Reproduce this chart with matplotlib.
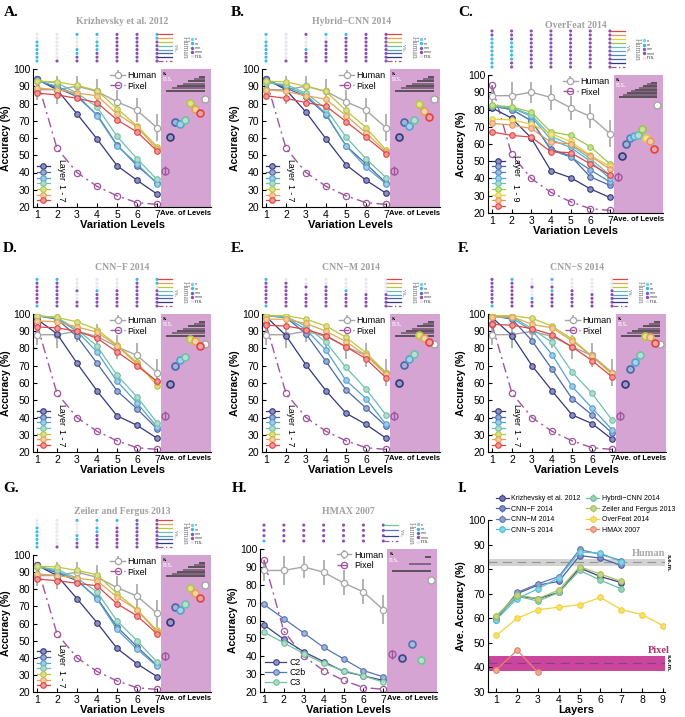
import numpy as np
import matplotlib.pyplot as plt
from matplotlib.colors import to_rgb

plt.rcParams['font.family'] = ['Liberation Sans', 'DejaVu Sans']
plt.rcParams['axes.linewidth'] = 0.8

W, H = 685, 717
fig = plt.figure(figsize=(W / 100, H / 100), dpi=100)


def box(x0, y0, x1, y1):
    return [x0 / W, 1 - y1 / H, (x1 - x0) / W, (y1 - y0) / H]


def light(c, f=0.45):
    r = np.array(to_rgb(c))
    return tuple(r + (1 - r) * f)


# ---- data ----
levels = [1, 2, 3, 4, 5, 6, 7]
human = [88, 88, 90, 87, 81, 76, 66]
human_err = [6, 8, 6, 7, 7, 7, 8]
human_ave = 82.5
pixel = [94, 54, 40, 32, 26.5, 22.5, 21.5]
pixel_ave = 41

kriz = [[94, 88, 74, 59.5, 44, 35.5, 27.5],
        [94, 89, 84, 73.5, 56, 44, 34],
        [93, 90, 85, 73, 55.5, 45, 33.5],
        [93, 92, 86, 78, 61, 48, 36],
        [93, 92.5, 90.5, 87.5, 77, 67, 55],
        [89, 88, 86, 84.5, 74, 66.5, 53.5],
        [86, 85, 83, 80.5, 70.5, 63.5, 52.5]]
kriz_ave = [60.5, 69, 68, 70.5, 80.5, 77, 74.5]
kriz_sig = ["0022442", "0000442", "2002444", "2002444",
            "2022444", "2024444", "2044444", "2444444"]

hybrid = [[94, 88, 75, 59.5, 44.5, 35.5, 28],
          [94, 89, 84, 73.5, 55.5, 45, 34],
          [93, 90, 85, 74, 55.5, 43, 33.5],
          [92, 91, 86, 77, 60.5, 48, 37],
          [93, 92.5, 90, 87, 76, 66, 53],
          [88, 87, 84.5, 82.5, 73, 63, 52],
          [84.5, 83, 80.5, 78.5, 69.5, 60.5, 51]]
hybrid_ave = [60.5, 69, 67, 70.5, 79.5, 75.5, 72]
hybrid_sig = ["2042244", "0000444", "2004444", "2004444",
              "2024444", "2044444", "2044444", "2444444"]

overfeat = [[81, 75, 63.5, 44.5, 40.5, 34, 29],
            [82, 80, 73.5, 57, 53, 41, 36],
            [82, 80, 73.5, 56.5, 52.5, 45, 38],
            [82, 81, 76, 62.5, 58, 50, 40],
            [82, 81, 77, 64.5, 59.5, 51.5, 42],
            [82.5, 81.5, 78.5, 67, 65, 58.5, 48.5],
            [74.5, 74, 71.5, 66, 61.5, 53.5, 47],
            [72, 71, 69, 61, 60, 53, 45.5],
            [67, 65, 64, 55.5, 55, 48.5, 42]]
overfeat_ave = [53, 60, 63.5, 64.5, 65.5, 68.5, 63.5, 61.5, 57]
overfeat_sig = ["4444444", "4444444", "2444444", "2244444", "2244444",
                "2244444", "2244444", "2244444", "2444444", "2444444"]

cnnf = [[97, 88.5, 71.5, 55.5, 41, 35.5, 28],
        [99, 97, 87, 71.5, 55.5, 45, 33.5],
        [99, 97.5, 90, 78, 61, 48.5, 34.5],
        [99, 98, 91, 81.5, 64.5, 52, 37],
        [99, 98, 95.5, 91, 82, 72, 58.5],
        [96, 95.5, 92.5, 89.5, 81.5, 71, 60.5],
        [92.5, 92, 90, 86, 78, 70, 61]]
cnnf_ave = [59.5, 70, 73.5, 75, 85.5, 84.5, 81.5]
cnnf_sig = ["2200022", "4400042", "4400040", "4432444",
            "4404444", "4404444", "4444444", "2444444"]

cnnm = [[98.5, 87.5, 70.5, 55.5, 42.5, 36, 28],
        [99, 98, 88.5, 72.5, 56, 45.5, 35],
        [99, 98, 91, 79, 61.5, 51, 36],
        [99, 98.5, 93, 83.5, 69, 56.5, 41.5],
        [99, 99, 97, 93, 86.5, 77.5, 66],
        [97, 97, 94.5, 90, 84, 76, 65],
        [93.5, 93, 91, 87.5, 81, 74, 63]]
cnnm_ave = [60, 70.5, 74, 77, 88, 86, 83.5]
cnnm_sig = ["2000000", "4400000", "4444000", "4404200",
            "4444444", "4444444", "4444444", "2444444"]

cnns = [[98, 87.5, 70, 55.5, 41.5, 36.5, 27.5],
        [99, 97, 84.5, 68, 51, 41.5, 31],
        [99, 97.5, 90.5, 76.5, 58, 45.5, 33],
        [99, 98.5, 91.5, 83.5, 66.5, 54, 38.5],
        [99, 99, 97.5, 93, 85.5, 75.5, 65],
        [98, 98.5, 94, 92, 84.5, 75.5, 66],
        [94, 93.5, 91.5, 88, 81, 73, 63.5]]
cnns_ave = [59.5, 68, 72, 76.5, 87, 86.5, 83]
cnns_sig = ["4202000", "4400000", "4444000", "4402404",
            "4404444", "4424444", "4444444", "2444444"]

zeiler = [[94, 88, 74.5, 60.5, 45.5, 36.5, 29],
          [94, 89.5, 85, 75, 58, 46.5, 35.5],
          [93.5, 90.5, 85.5, 74.5, 56.5, 45, 35],
          [93, 91.5, 86.5, 78.5, 61.5, 50, 37.5],
          [93.5, 93, 91, 88.5, 77.5, 68, 56],
          [89, 88, 86.5, 85, 75.5, 68, 55],
          [86, 85, 83.5, 82, 71.5, 64.5, 54]]
zeiler_ave = [61, 69.5, 68, 71.5, 81, 78, 75]
zeiler_sig = ["0022234", "0000034", "2002444", "2002444",
              "2024444", "2024444", "2044444", "2444444"]

hmax = [[57.5, 49.5, 42.5, 37, 31.5, 29, 26.5],
        [69, 61, 53, 45, 38.5, 32, 28.5],
        [53.5, 47.5, 41.5, 36, 32, 29, 25.5]]
hmax_ave = [39, 47, 38]
hmax_names = ['C2', 'C2b', 'C3']
hmax_sig = ["4444444", "4444444", "4444444", "2444444"]

model_names = ['Krizhevsky et al. 2012', 'CNN\u2212F 2014', 'CNN\u2212M 2014', 'CNN\u2212S 2014',
               'Hybrdi\u2212CNN 2014', 'Zeiler and Fergus 2013', 'OverFeat 2014', 'HMAX 2007']
model_aves = [kriz_ave, cnnf_ave, cnnm_ave, cnns_ave, hybrid_ave, zeiler_ave, overfeat_ave, hmax_ave]
human_band = (81.3, 84.2)
pixel_band = (38.5, 44.7)

sig_labels = ['*', '**', '***', '****', 'n.s.']
sig_keys = ['1', '2', '3', '4', '0']

# ---- styles ----
cols7 = ['#34367f', '#4a66a8', '#55a2cf', '#6fc0aa', '#bcc53c', '#e3a552', '#e04545']
cols9 = ['#34367f', '#4a66a8', '#4f86c0', '#55a8d6', '#68c0b8', '#98c54a',
         '#e6cf3e', '#e5975a', '#e04545']
hmax_cols = ['#3d418c', '#5575b5', '#72c29a']
model_cols = ['#3b3d8c', '#4c5fae', '#6478ae', '#55bfd8', '#6fbf99', '#a8c25a', '#f0d23c', '#e8856a']
PINK = '#d6a4d3'
PIX = '#a1559e'
GREY = '#a5a5a5'
TGREY = '#a0a0a0'
sig_cols = {'0': '#ece4ef', '1': '#6ad4f2', '2': '#3eb8e6', '3': '#6e63c2', '4': '#8a4fb2'}
SERIF = ['Liberation Serif', 'DejaVu Serif']
TICK = 7.5


def panel(bx, letter, lpos, title, ty, curves, aves, sig, colors, sp, names=None):
    x0, y0, x1, y1 = bx
    n = len(curves)
    ax = fig.add_axes(box(*bx))
    ax.set_xlim(0.8, 9.7)
    ax.set_ylim(20, 100)
    ax.axvspan(7.2, 9.7, color=PINK, lw=0, zorder=0)
    hl = ax.errorbar(levels, human, yerr=human_err, color=GREY, marker='o', ms=4.5,
                     mfc='white', mec=GREY, mew=0.9, lw=1, elinewidth=1.2, zorder=2)
    pl, = ax.plot(levels, pixel, color=PIX, ls=(0, (7, 3, 1.5, 3)), lw=1, marker='o',
                  ms=4.5, mfc='none', mec=PIX, mew=0.9, zorder=2)
    handles = []
    for c, col in zip(curves, colors):
        h, = ax.plot(levels, c, color=col, lw=0.9, marker='o', ms=4,
                     mfc=light(col), mec=col, mew=0.8, zorder=3)
        handles.append(h)

    # averages over levels
    xa = np.linspace(7.42, 9.42, n + 2)
    ax.errorbar(xa[0], pixel_ave, yerr=2.5, color=PIX, marker='o', ms=5,
                mfc='none', mew=1, elinewidth=1)
    for xi, v, col in zip(xa[1:-1], aves, colors):
        ax.errorbar(xi, v, yerr=1.8, color=col, marker='o', ms=5, mfc=light(col, 0.5),
                    mec=col, mew=1.2, elinewidth=1)
    ax.plot(xa[-1], human_ave, 'o', ms=5, mfc='white', mec=GREY, mew=1)

    # s. / n.s. bars
    ax.text(7.3, 97.3, 's.', fontsize=5, fontweight='bold', family=SERIF, va='center')
    ax.text(7.3, 94.0, 'n.s.', fontsize=5.5, color='white', family=SERIF, va='center')
    for k, (yb, xs) in enumerate(zip(np.linspace(95.5, 87.5, n), np.linspace(9.1, 7.45, n))):
        ax.plot([xs, 9.38], [yb, yb], color='#3a3a3a' if k % 2 == 0 else '#6a5468',
                lw=1.1, solid_capstyle='butt')

    ax.spines[['top', 'right']].set_visible(False)
    ax.set_xticks(levels)
    ax.set_yticks(range(20, 101, 10))
    ax.tick_params(direction='in', length=3, labelsize=TICK, pad=2)
    ax.set_xlabel('Variation Levels', fontsize=8, fontweight='bold', labelpad=0)
    ax.set_ylabel('Accuracy (%)', fontsize=7.5, fontweight='bold', labelpad=1)
    ax.text(8.45, -0.02, 'Ave. of Levels', transform=ax.get_xaxis_transform(),
            ha='center', va='top', fontsize=5.5, fontweight='bold')

    leg1 = ax.legend([hl, pl], ['Human', 'Pixel'], loc='upper right',
                     bbox_to_anchor=(0.72, 1.02), frameon=False, fontsize=6.5,
                     handlelength=1.6, handletextpad=0.3, labelspacing=0.2,
                     borderaxespad=0.1)
    ax.add_artist(leg1)
    if names:
        ax.legend(handles, names, loc='lower left', frameon=False, fontsize=6.3,
                  handlelength=2.4, handletextpad=0.4, labelspacing=0.1,
                  borderaxespad=0.2)
    else:
        ax.legend(handles, [''] * n, loc='lower left', frameon=False, fontsize=4,
                  handlelength=2.3, handletextpad=0.0, labelspacing=0.12,
                  borderaxespad=0.3)
        ax.text(2.2, 22 + n * 2.8, 'Layer', rotation=-90, fontsize=6.3,
                ha='center', va='center')
        ax.text(2.2, 28 if n == 7 else 32, '1 - %d' % n, rotation=-90, fontsize=6.3,
                ha='center', va='center')

    # significance dots above the plot
    nrows = n + 1
    gap = 8
    axd = fig.add_axes(box(x0, y0 - 50, x1, y0))
    axd.set_xlim(0.8, 9.7)
    axd.set_ylim(y0, y0 - 50)
    axd.axis('off')
    row_y = [y0 - gap - (nrows - 1 - r) * sp for r in range(nrows)]
    for r, row in enumerate(sig):
        axd.scatter(levels, [row_y[r]] * 7, s=5, c=[sig_cols[ch] for ch in row],
                    linewidths=0, clip_on=False)
    key_cols = list(reversed(colors))
    for r in range(nrows):
        if r < n:
            axd.plot([7.05, 7.75], [row_y[r]] * 2, color=key_cols[r], lw=0.9, clip_on=False)
        else:
            axd.plot([7.05, 7.75], [row_y[r]] * 2, color=PIX, lw=0.9,
                     ls=(0, (4, 2, 1, 2)), clip_on=False)
    ymid = np.mean(row_y)
    axd.text(7.9, ymid, 'vs.', rotation=-90, fontsize=4.5, color='#707070', family=SERIF,
             ha='center', va='center')
    axd.text(8.38, ymid, 'Human', rotation=-90, fontsize=5.5, color='#808080', family=SERIF,
             ha='center', va='center')
    for i, (k, lab) in enumerate(zip(sig_keys, sig_labels)):
        yy = ymid + (i - 2) * 4.3
        axd.scatter([8.75], [yy], s=6, c=[sig_cols[k]], linewidths=0, clip_on=False)
        axd.text(8.88, yy + (0.9 if lab != 'n.s.' else 0), lab, fontsize=3.8, ha='left',
                 va='center', color='#303030')

    fig.text((x0 + x1) / 2 / W, 1 - ty / H, title, ha='center', va='center',
             fontsize=7, fontweight='bold', color=TGREY, family=SERIF)
    fig.text(lpos[0] / W, 1 - lpos[1] / H, letter, ha='left', va='center',
             fontsize=11, fontweight='bold', family=SERIF)
    return ax


panel((33, 69, 211, 207), 'A.', (4, 13), 'Krizhevsky et al. 2012', 22,
      kriz, kriz_ave, kriz_sig, cols7, 3.8)
panel((262, 69, 440, 207), 'B.', (231, 13), 'Hybrid\u2212CNN 2014', 22,
      hybrid, hybrid_ave, hybrid_sig, cols7, 3.8)
panel((488, 75, 663, 213), 'C.', (458, 13), 'OverFeat 2014', 25,
      overfeat, overfeat_ave, overfeat_sig, cols9, 4.0)
panel((33, 314, 211, 452), 'D.', (3, 248), 'CNN\u2212F 2014', 268,
      cnnf, cnnf_ave, cnnf_sig, cols7, 3.8)
panel((262, 314, 440, 452), 'E.', (231, 248), 'CNN\u2212M 2014', 268,
      cnnm, cnnm_ave, cnnm_sig, cols7, 3.8)
panel((488, 314, 666, 452), 'F.', (458, 248), 'CNN\u2212S 2014', 268,
      cnns, cnns_ave, cnns_sig, cols7, 3.8)
panel((33, 555, 211, 692), 'G.', (3, 488), 'Zeiler and Fergus 2013', 512,
      zeiler, zeiler_ave, zeiler_sig, cols7, 3.8)
panel((260, 549, 437, 692), 'H.', (232, 488), 'HMAX 2007', 512,
      hmax, hmax_ave, hmax_sig, hmax_cols, 5.3, names=hmax_names)

# ---- panel I ----
axI = fig.add_axes(box(488, 520, 665, 692))
axI.set_xlim(0.6, 9.1)
axI.set_ylim(30, 100)
axI.axhspan(*human_band, color='#d2d2d2', lw=0, zorder=0)
axI.axhline(np.mean(human_band), color='#959595', ls=(0, (8, 5)), lw=0.8, zorder=1)
axI.axhspan(*pixel_band, color='#c9469c', lw=0, zorder=0)
axI.axhline(42, color='#8c3c8c', ls=(0, (8, 5)), lw=0.8, zorder=1)
for name, vals, col in zip(model_names, model_aves, model_cols):
    xs = np.arange(1, len(vals) + 1)
    axI.errorbar(xs, vals, yerr=1.2, color=col, marker='o', ms=4, mfc=light(col, 0.3),
                 mec=col, mew=0.8, lw=0.9, elinewidth=0.8, label=name, zorder=3)
axI.text(7.5, 86.2, 'Human', fontsize=7.5, fontweight='bold', color='#a8a8a8',
         family=SERIF, va='center')
axI.text(8.3, 46.8, 'Pixel', fontsize=7.5, fontweight='bold', color='#b0306a',
         family=SERIF, va='center')
for yy in (np.mean(human_band), 42):
    axI.text(9.12, yy, 's.e.m.', rotation=-90, fontsize=4.5, fontweight='bold',
             ha='left', va='center', clip_on=False)
axI.spines[['top', 'right']].set_visible(False)
axI.set_xticks(range(1, 10))
axI.set_yticks(range(30, 101, 10))
axI.tick_params(direction='in', length=3, labelsize=TICK, pad=2)
axI.set_xlabel('Layers', fontsize=8, fontweight='bold', labelpad=0)
axI.set_ylabel('Ave. Accuracy (%)', fontsize=7.5, fontweight='bold', labelpad=1)
axI.legend(loc='upper left', bbox_to_anchor=(0.03, 1.16), ncol=2, frameon=False,
           fontsize=5, handlelength=1.8, handletextpad=0.4, columnspacing=0.8,
           labelspacing=0.5, borderaxespad=0.0)
fig.text(458 / W, 1 - 488 / H, 'I.', ha='left', va='center', fontsize=11,
         fontweight='bold', family=SERIF)

fig.savefig('out.png', dpi=100)
